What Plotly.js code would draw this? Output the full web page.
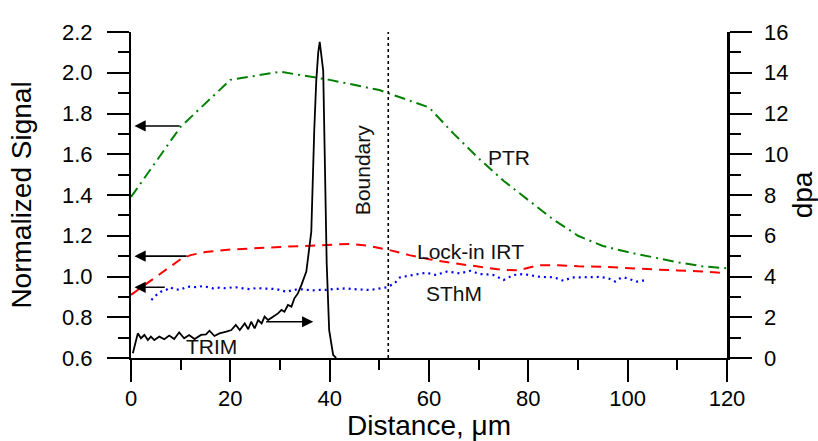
<!DOCTYPE html>
<html>
<head>
<meta charset="utf-8">
<script src="https://cdn.plot.ly/plotly-3.0.1.min.js"></script>
<style>html,body{margin:0;padding:0;background:#fff}#chart{width:818px;height:441px}</style>
</head>
<body>
<div id="chart"></div>
<script>
// PTR (green dash-dot), normalized signal
const ptrX = [0, 10, 20, 30, 40, 50, 60, 65, 70, 75, 80, 85, 90, 95, 100, 105, 110, 115, 120];
const ptrY = [1.39, 1.735, 1.965, 2.005, 1.965, 1.915, 1.83, 1.70, 1.58, 1.47, 1.375, 1.28, 1.20, 1.15, 1.12, 1.095, 1.07, 1.05, 1.04];

// Lock-in IRT (red dashed)
const irtX = [0, 5, 10, 12, 15, 20, 25, 30, 35, 40, 44, 48, 52, 56, 60, 65, 70, 75, 78, 82, 86, 90, 95, 100, 105, 110, 115, 120];
const irtY = [0.91, 0.996, 1.085, 1.105, 1.12, 1.132, 1.14, 1.145, 1.15, 1.155, 1.16, 1.15, 1.13, 1.105, 1.085, 1.065, 1.05, 1.032, 1.03, 1.055, 1.055, 1.05, 1.048, 1.04, 1.035, 1.03, 1.025, 1.015];

// SThM (blue dotted)
const sthmX = [4.1, 5.1, 6, 7.1, 7.8, 8.8, 9.9, 10.8, 11.8, 13, 14.5, 15.5, 16.5, 17.8, 19.2, 20.2, 21.2, 22.5, 23.9, 25.2, 26.6, 28, 29.3, 30.3, 31.3, 32.3, 33.3, 34.3, 35.3, 36.6, 38, 39.4, 40.7, 42, 43.4, 44.7, 46, 47, 48.1, 49.8, 51.5, 53, 54.2, 55.5, 56.8, 58.2, 59.5, 60.5, 61.5, 62.5, 63.6, 65, 66.3, 67.3, 68.3, 69.3, 70.3, 71.7, 73, 74, 75, 76, 77, 78, 79.1, 80.7, 82.4, 83.7, 85.1, 86.1, 87.1, 88.2, 89.2, 90.5, 91.9, 93.2, 94.5, 95.4, 96.2, 97.5, 98.4, 99.2, 100.5, 101.9, 102.9, 103.6];
const sthmY = [0.885, 0.909, 0.925, 0.934, 0.947, 0.938, 0.934, 0.945, 0.950, 0.948, 0.953, 0.948, 0.942, 0.945, 0.942, 0.946, 0.947, 0.942, 0.938, 0.943, 0.942, 0.940, 0.938, 0.932, 0.925, 0.931, 0.936, 0.937, 0.934, 0.932, 0.934, 0.934, 0.938, 0.940, 0.942, 0.938, 0.936, 0.935, 0.934, 0.940, 0.947, 0.965, 0.996, 1.002, 1.007, 1.012, 1.019, 1.012, 1.007, 1.016, 1.024, 1.02, 1.015, 1.022, 1.028, 1.02, 1.012, 1.01, 1.007, 0.995, 0.983, 0.995, 1.007, 1.01, 1.012, 1.005, 0.998, 0.997, 0.996, 0.988, 0.979, 0.99, 0.996, 0.996, 0.996, 0.997, 0.998, 0.994, 0.990, 0.975, 0.99, 0.996, 0.985, 0.975, 0.98, 0.98];

// TRIM (black solid), dpa on right axis
const trimX = [0.37, 1.37, 2.0, 2.7, 3.4, 4.0, 4.7, 5.7, 6.7, 7.7, 8.7, 9.7, 10.7, 11.7, 12.8, 14.1, 15.1, 15.8, 16.8, 17.8, 19.2, 20.2, 21.1, 21.9, 22.9, 23.6, 24.2, 24.9, 25.6, 26.3, 26.9, 27.6, 28.6, 29.6, 30.3, 30.9, 31.6, 32.3, 32.9, 33.6, 34.3, 34.9, 35.3, 36.0, 36.3, 36.9, 37.3, 37.7, 38.0, 38.7, 39.0, 39.4, 39.9, 40.7, 41.3];
const trimY = [0.23, 1.21, 0.97, 1.13, 0.88, 1.05, 0.88, 1.05, 0.92, 1.10, 0.93, 1.26, 0.97, 1.13, 0.93, 1.13, 1.16, 1.34, 1.08, 1.21, 1.29, 1.37, 1.62, 1.37, 1.70, 1.41, 1.78, 1.45, 1.86, 1.70, 2.03, 1.86, 2.03, 2.19, 2.36, 2.27, 2.60, 2.52, 2.93, 3.17, 3.58, 3.99, 4.24, 5.6, 6.2, 11.2, 13.6, 15.0, 15.52, 14.1, 9.55, 4.65, 1.37, 0.15, 0.0];

const boundaryX = [51.8];

const xTickVals = [0, 20, 40, 60, 80, 100, 120];
const yTickVals = [0.6, 0.8, 1.0, 1.2, 1.4, 1.6, 1.8, 2.0, 2.2];
const y2TickVals = [0, 2, 4, 6, 8, 10, 12, 14, 16];

// label positions
const labels = [
  {text: 'PTR', x: 76.2, y: 1.585},
  {text: 'Lock-in IRT', x: 68.3, y: 1.125},
  {text: 'SThM', x: 65.1, y: 0.915},
  {text: 'TRIM', x: 16.3, y: 0.655}
];
// arrows: [headX, tailX, y, axis]
const arrows = [
  [0.7, 10.1, 1.739, 'y'],
  [0.7, 11.5, 1.100, 'y'],
  [0.7, 7.1, 0.947, 'y'],
  [36.7, 26.9, 1.78, 'y2']
];

const FONT = 'Liberation Sans, Arial, sans-serif';

const traces = [
  {x: ptrX, y: ptrY, type: 'scatter', mode: 'lines', line: {color: '#008000', width: 2, dash: '11px,5px,2px,5px'}, xaxis: 'x', yaxis: 'y'},
  {x: irtX, y: irtY, type: 'scatter', mode: 'lines', line: {color: '#ff0000', width: 2, dash: '10px,7px'}, xaxis: 'x', yaxis: 'y'},
  {x: sthmX, y: sthmY, type: 'scatter', mode: 'lines', line: {color: '#0000ff', width: 2.2, dash: '2px,4px'}, xaxis: 'x', yaxis: 'y'},
  {x: trimX, y: trimY, type: 'scatter', mode: 'lines', line: {color: '#000000', width: 1.8}, xaxis: 'x', yaxis: 'y2'}
];

const annotations = [];
labels.forEach(l => annotations.push({
  text: l.text, x: l.x, y: l.y, xref: 'x', yref: 'y', showarrow: false,
  font: {family: FONT, size: 21, color: '#111'}
}));
annotations.push({
  text: 'Boundary', x: 46.75, y: 1.523, xref: 'x', yref: 'y', showarrow: false, textangle: -90,
  font: {family: FONT, size: 21, color: '#111'}
});
arrows.forEach(a => annotations.push({
  text: '', x: a[0], y: a[2], ax: a[1], ay: a[2], xref: 'x', yref: a[3], axref: 'x', ayref: a[3],
  showarrow: true, arrowhead: 2, arrowsize: 1.4, arrowwidth: 1.6, arrowcolor: '#000', standoff: 0, startstandoff: 0
}));

const layout = {
  width: 818, height: 441,
  margin: {l: 131, r: 91, t: 32, b: 83, pad: 0},
  paper_bgcolor: '#fff', plot_bgcolor: '#fff',
  showlegend: false,
  font: {family: FONT, color: '#000'},
  xaxis: {
    range: [0, 120], tickvals: xTickVals, ticktext: xTickVals.map(String),
    ticks: 'outside', ticklen: 22, tickwidth: 2, tickcolor: '#000',
    minor: {dtick: 10, tick0: 0, ticks: 'outside', ticklen: 10, tickwidth: 2, tickcolor: '#000'},
    showline: true, linecolor: '#000', linewidth: 2, showgrid: false, zeroline: false,
    tickfont: {family: FONT, size: 22}, ticklabelstandoff: -2,
    title: {text: 'Distance, μm', font: {family: FONT, size: 28}, standoff: 3},
    anchor: 'y', automargin: false
  },
  xaxis2: {
    range: [0, 120], overlaying: 'x', side: 'top', anchor: 'y',
    showline: true, linecolor: '#555', linewidth: 1.5, showgrid: false, zeroline: false,
    ticks: 'inside', ticklen: 2, tickwidth: 1, tickcolor: '#777', dtick: 10, tick0: 0,
    showticklabels: false
  },
  yaxis: {
    range: [0.6, 2.2], tickvals: yTickVals, ticktext: yTickVals.map(v => v.toFixed(1)),
    ticks: 'outside', ticklen: 22, tickwidth: 2, tickcolor: '#000',
    minor: {dtick: 0.1, tick0: 0.6, ticks: 'outside', ticklen: 11, tickwidth: 2, tickcolor: '#000'},
    showline: true, linecolor: '#000', linewidth: 2, showgrid: false, zeroline: false,
    tickfont: {family: FONT, size: 22}, ticklabelstandoff: 10,
    title: {text: 'Normalized Signal', font: {family: FONT, size: 28}, standoff: 22},
    anchor: 'x', automargin: false
  },
  yaxis2: {
    range: [0, 16], tickvals: y2TickVals, ticktext: y2TickVals.map(String),
    overlaying: 'y', side: 'right', anchor: 'x',
    ticks: 'outside', ticklen: 22, tickwidth: 2, tickcolor: '#000',
    minor: {dtick: 1, tick0: 0, ticks: 'outside', ticklen: 11, tickwidth: 2, tickcolor: '#000'},
    showline: true, linecolor: '#000', linewidth: 2.5, showgrid: false, zeroline: false,
    tickfont: {family: FONT, size: 22}, ticklabelstandoff: 8,
    title: {text: 'dpa', font: {family: FONT, size: 28}, standoff: 8},
    automargin: false
  },
  shapes: [{
    type: 'line', xref: 'x', yref: 'paper', x0: boundaryX[0], x1: boundaryX[0], y0: 0, y1: 1,
    line: {color: '#000', width: 1.6, dash: 'dot'}
  }],
  annotations: annotations
};

Plotly.newPlot('chart', traces, layout, {staticPlot: true, displayModeBar: false});
</script>
</body>
</html>
